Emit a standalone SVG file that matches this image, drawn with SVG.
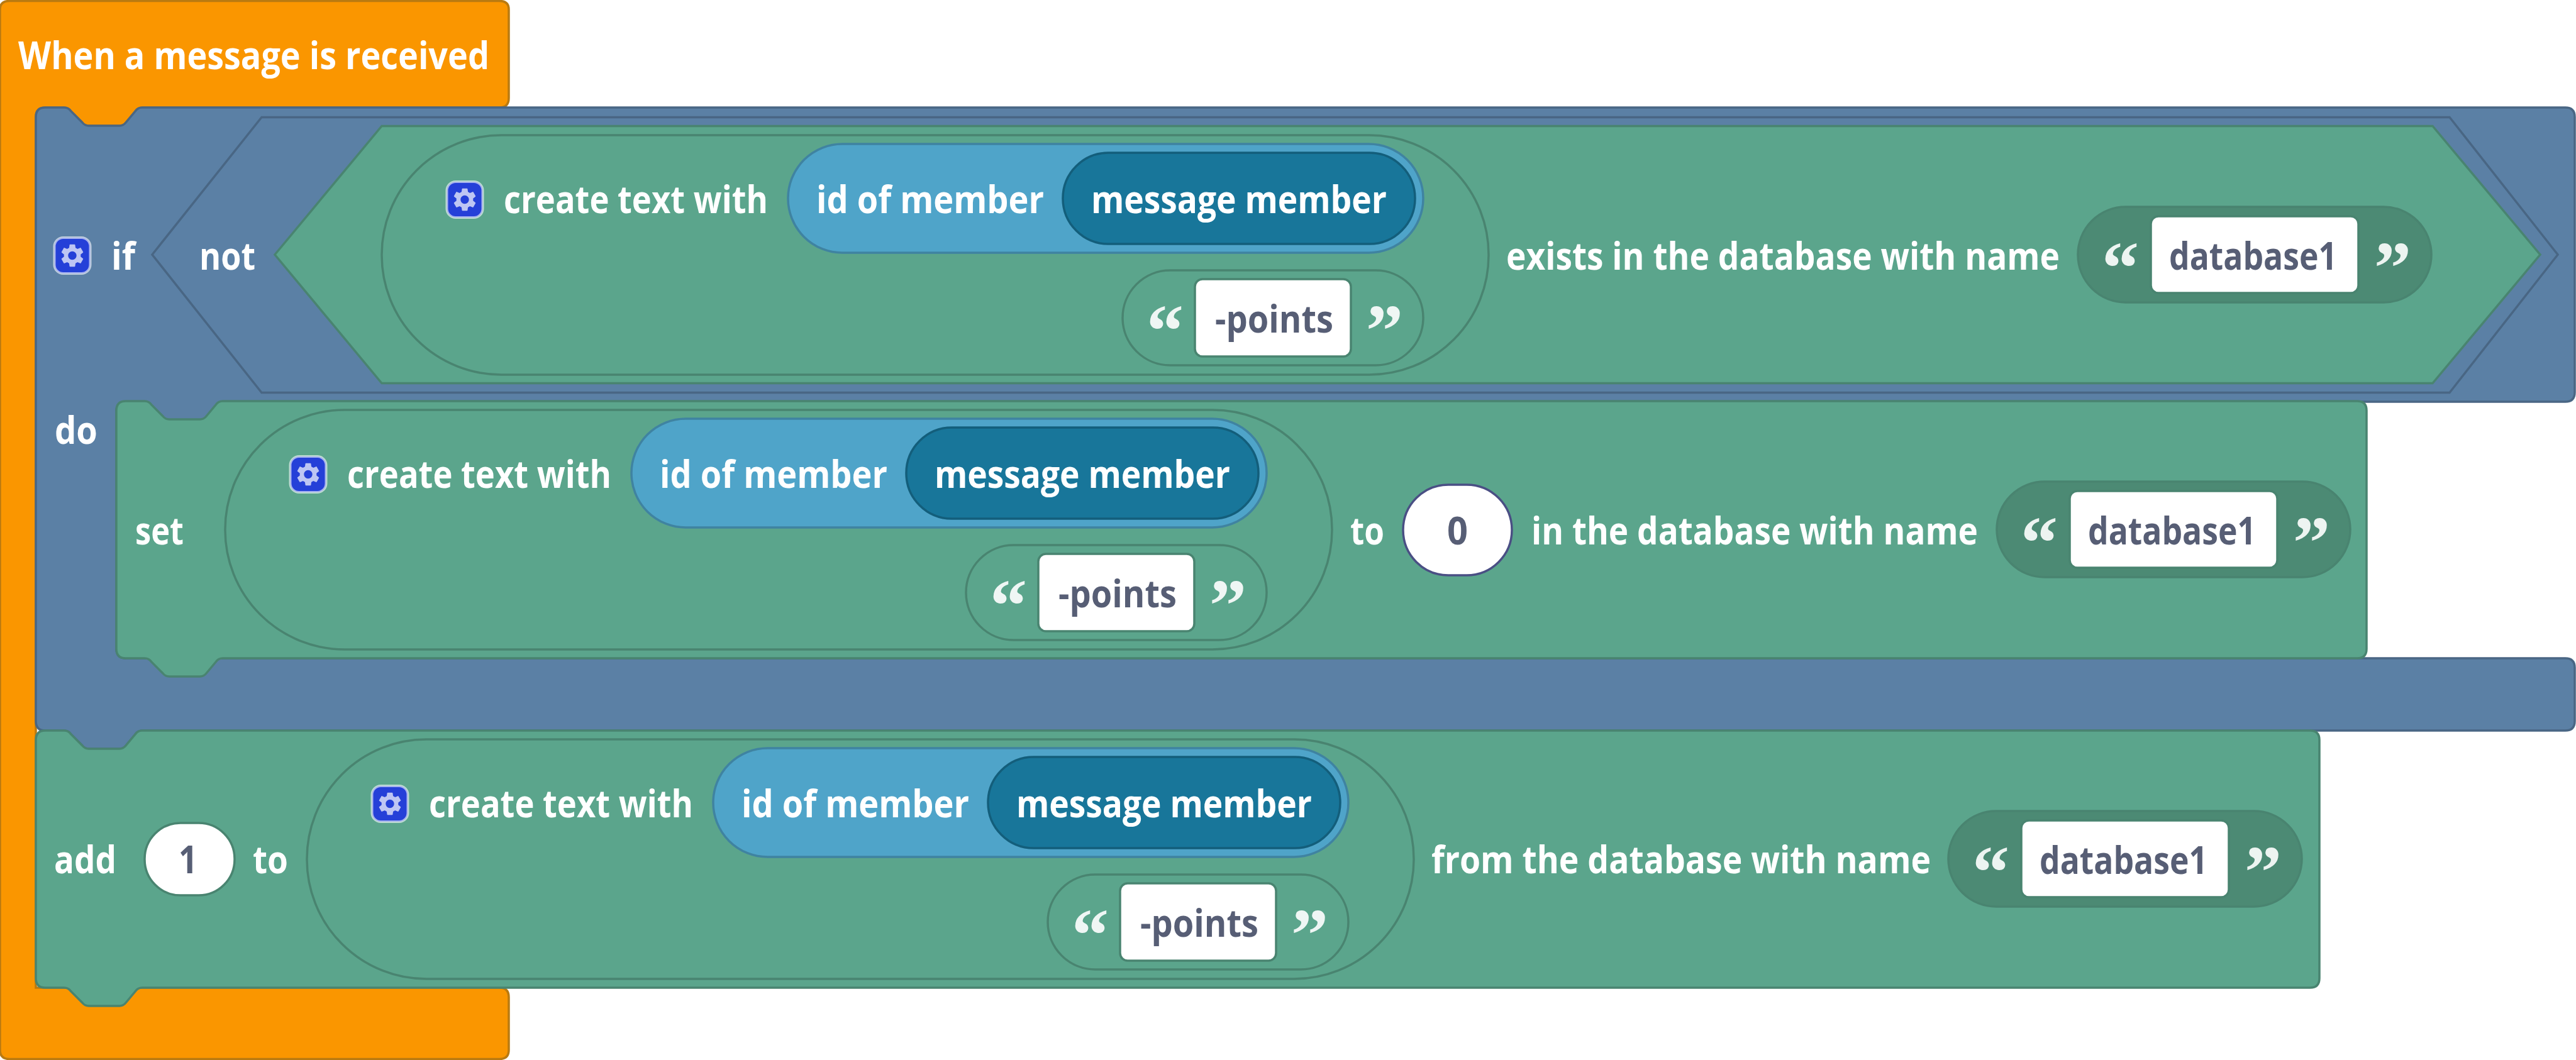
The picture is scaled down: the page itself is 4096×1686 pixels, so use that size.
<svg xmlns="http://www.w3.org/2000/svg" xmlns:xlink="http://www.w3.org/1999/xlink" width="4096" height="1686" viewBox="0 0 4096 1686">
<style>
text{font-family:"Open Sans","Noto Sans","Liberation Sans",sans-serif;font-weight:700;font-size:60px;fill:#fff;white-space:pre}
text.v{fill:#575e75}
text.q{font-family:"Liberation Serif",serif;font-size:118px;fill:#fff;fill-opacity:.9}
.g{fill:#5ba58c;stroke:#498470;stroke-width:3.5}
.b{fill:#5b80a5;stroke:#496684;stroke-width:3.5}
.o{fill:#fa9600;stroke:#b97a11;stroke-width:3.5}
.lb{fill:#4fa4c9;stroke:#3f83a1;stroke-width:3.5}
.db{fill:#18769a;stroke:#135e7b;stroke-width:3.5}
.sh{fill:#4c8a74;stroke:#498470;stroke-width:3.5}
.w{fill:#fff;stroke:#498470;stroke-width:3.5}
.ic{fill:#2540d8;stroke:#fff;stroke-opacity:.6;stroke-width:4}
.gear{fill:#fff;fill-opacity:.7}
</style>
<defs>
<g id="gear"><rect class="ic" x="-28.5" y="-28.5" width="57" height="57" rx="14"/><path class="gear" transform="scale(1.85) translate(-12,-12)" fill-rule="evenodd" d="M19.14,12.94c.04-.3.06-.61.06-.94 0-.32-.02-.64-.07-.94l2.03-1.58c.18-.14.23-.41.12-.61l-1.92-3.32c-.12-.22-.37-.29-.59-.22l-2.39.96c-.5-.38-1.03-.7-1.62-.94l-.36-2.54c-.04-.24-.24-.41-.48-.41h-3.84c-.24 0-.43.17-.47.41l-.36 2.54c-.59.24-1.13.57-1.62.94l-2.39-.96c-.22-.08-.47 0-.59.22L2.74 8.87c-.12.21-.08.47.12.61l2.03 1.58c-.05.3-.09.63-.09.94s.02.64.07.94l-2.03 1.58c-.18.14-.23.41-.12.61l1.92 3.32c.12.22.37.29.59.22l2.39-.96c.5.38 1.03.7 1.62.94l.36 2.54c.05.24.24.41.48.41h3.84c.24 0 .44-.17.47-.41l.36-2.54c.59-.24 1.13-.56 1.62-.94l2.39.96c.22.08.47 0 .59-.22l1.92-3.32c.12-.22.07-.47-.12-.61l-2.01-1.58zM12 15.6c-1.98 0-3.6-1.62-3.6-3.6s1.62-3.6 3.6-3.6 3.6 1.62 3.6 3.6-1.62 3.6-3.6 3.6z"/></g>
</defs>

<g id="event-block">
<path class="o" d="M0,15 Q0,1.5 15,1.5 H794 Q809,1.5 809,15 V156 Q809,171 794,171 H226 q-7,0 -11,6 l-15,18 q-4,5 -10,5 h-49 q-6,0 -10,-5 l-18,-18 q-4,-6 -11,-6 H72 Q57,171 57,186 V1571 H794 Q809,1571 809,1586 V1670 Q809,1684.5 794,1684.5 H15 Q0,1684.5 0,1670 Z"/>
<text x="29" y="110" textLength="749" lengthAdjust="spacingAndGlyphs">When a message is received</text>
</g>

<g id="if-block">
<path class="b" d="M57,186 Q57,171 72,171 H102 q7,0 11,6 l18,18 q4,5 10,5 h49 q6,0 10,-5 l15,-18 q4,-6 11,-6 H4079 Q4094,171 4094,186 V624 Q4094,639 4079,639 H354 q-7,0 -11,6 l-15,18 q-4,5 -10,5 h-49 q-6,0 -10,-5 l-18,-18 q-4,-6 -11,-6 H200 Q185,639 185,654 V1032 Q185,1047 200,1047 H4079 Q4094,1047 4094,1062 V1147 Q4094,1162 4079,1162 H226 q-7,0 -11,6 l-15,18 q-4,5 -10,5 h-49 q-6,0 -10,-5 l-18,-18 q-4,-6 -11,-6 H72 Q57,1162 57,1147 Z"/>
<use xlink:href="#gear" href="#gear" x="115" y="406.5"/>
<text x="177" y="429" textLength="38" lengthAdjust="spacingAndGlyphs">if</text>
<text x="87" y="706" textLength="68" lengthAdjust="spacingAndGlyphs">do</text>
</g>

<g id="not-block">
<polygon class="b" points="242,405 416,186.5 3895,186.5 4067,405 3895,624.5 416,624.5"/>
<text x="317" y="429" textLength="89" lengthAdjust="spacingAndGlyphs">not</text>
</g>

<g id="exists-block">
<polygon class="g" points="437,405 607,200.5 3868,200.5 4039,405 3868,609.5 607,609.5"/>
<text x="2395" y="429" textLength="880" lengthAdjust="spacingAndGlyphs">exists in the database with name</text>
</g>

<g id="exists-text-block">
<rect class="g" x="607" y="215" width="1760" height="381" rx="190" ry="190"/>
<use xlink:href="#gear" href="#gear" x="739" y="317.5"/>
<text x="801" y="339" textLength="420" lengthAdjust="spacingAndGlyphs">create text with</text>
</g>
<g id="exists-id-of-member">
<rect class="lb" x="1253" y="229" width="1010" height="173" rx="86.5"/>
<text x="1298" y="339" textLength="362" lengthAdjust="spacingAndGlyphs">id of member</text>
</g>
<g id="exists-message-member">
<rect class="db" x="1690" y="243" width="560" height="145" rx="72.5"/>
<text x="1735" y="339" textLength="470" lengthAdjust="spacingAndGlyphs">message member</text>
</g>
<g id="exists-points">
<rect class="g" x="1785" y="430" width="478" height="151" rx="75.5"/>
<text class="q" x="1823" y="566">“</text>
<rect class="w" x="1900" y="444" width="248" height="123" rx="12"/>
<text class="v" x="1932" y="529" textLength="188" lengthAdjust="spacingAndGlyphs">-points</text>
<text class="q" x="2172" y="566">”</text>
</g>
<g id="exists-database">
<rect class="sh" x="3304" y="329" width="562" height="152" rx="76"/>
<text class="q" x="3342" y="466">“</text>
<rect class="w" x="3420" y="344" width="330" height="122" rx="12"/>
<text class="v" x="3449" y="429" textLength="267" lengthAdjust="spacingAndGlyphs">database1</text>
<text class="q" x="3775" y="466">”</text>
</g>

<g id="set-block">
<path class="g" d="M185,653 Q185,638 200,638 H230 q7,0 11,6 l18,18 q4,5 10,5 h49 q6,0 10,-5 l15,-18 q4,-6 11,-6 H3748 Q3763,638 3763,653 V1032 Q3763,1047 3748,1047 H354 q-7,0 -11,6 l-15,18 q-4,5 -10,5 h-49 q-6,0 -10,-5 l-18,-18 q-4,-6 -11,-6 H200 Q185,1047 185,1032 Z"/>
<text x="215" y="866" textLength="77" lengthAdjust="spacingAndGlyphs">set</text>
<text x="2147" y="866" textLength="54" lengthAdjust="spacingAndGlyphs">to</text>
<text x="2435" y="866" textLength="710" lengthAdjust="spacingAndGlyphs">in the database with name</text>
</g>
<g id="set-text-block" transform="translate(-249,437)">
<rect class="g" x="607" y="215" width="1760" height="381" rx="190" ry="190"/>
<use xlink:href="#gear" href="#gear" x="739" y="317.5"/>
<text x="801" y="339" textLength="420" lengthAdjust="spacingAndGlyphs">create text with</text>
<g id="set-id-of-member">
<rect class="lb" x="1253" y="229" width="1010" height="173" rx="86.5"/>
<text x="1298" y="339" textLength="362" lengthAdjust="spacingAndGlyphs">id of member</text>
</g>
<g id="set-message-member">
<rect class="db" x="1690" y="243" width="560" height="145" rx="72.5"/>
<text x="1735" y="339" textLength="470" lengthAdjust="spacingAndGlyphs">message member</text>
</g>
<g id="set-points">
<rect class="g" x="1785" y="430" width="478" height="151" rx="75.5"/>
<text class="q" x="1823" y="566">“</text>
<rect class="w" x="1900" y="444" width="248" height="123" rx="12"/>
<text class="v" x="1932" y="529" textLength="188" lengthAdjust="spacingAndGlyphs">-points</text>
<text class="q" x="2172" y="566">”</text>
</g>
</g>
<g id="set-value">
<rect x="2231" y="771" width="173" height="144" rx="72" fill="#fff" stroke="#4a4f84" stroke-width="3.5"/>
<text class="v" x="2301" y="866" textLength="33" lengthAdjust="spacingAndGlyphs">0</text>
</g>
<g id="set-database" transform="translate(-129,437)">
<rect class="sh" x="3304" y="329" width="562" height="152" rx="76"/>
<text class="q" x="3342" y="466">“</text>
<rect class="w" x="3420" y="344" width="330" height="122" rx="12"/>
<text class="v" x="3449" y="429" textLength="267" lengthAdjust="spacingAndGlyphs">database1</text>
<text class="q" x="3775" y="466">”</text>
</g>

<g id="add-block">
<path class="g" d="M57,1177 Q57,1162 72,1162 H102 q7,0 11,6 l18,18 q4,5 10,5 h49 q6,0 10,-5 l15,-18 q4,-6 11,-6 H3673 Q3688,1162 3688,1177 V1556 Q3688,1571 3673,1571 H226 q-7,0 -11,6 l-15,18 q-4,5 -10,5 h-49 q-6,0 -10,-5 l-18,-18 q-4,-6 -11,-6 H72 Q57,1571 57,1556 Z"/>
<text x="86" y="1389" textLength="99" lengthAdjust="spacingAndGlyphs">add</text>
<text x="402" y="1389" textLength="56" lengthAdjust="spacingAndGlyphs">to</text>
<text x="2276" y="1389" textLength="794" lengthAdjust="spacingAndGlyphs">from the database with name</text>
</g>
<g id="add-value">
<rect class="w" x="230" y="1309" width="143" height="115" rx="57"/>
<text class="v" x="284" y="1389" textLength="30" lengthAdjust="spacingAndGlyphs">1</text>
</g>
<g id="add-text-block" transform="translate(-119,961)">
<rect class="g" x="607" y="215" width="1760" height="381" rx="190" ry="190"/>
<use xlink:href="#gear" href="#gear" x="739" y="317.5"/>
<text x="801" y="339" textLength="420" lengthAdjust="spacingAndGlyphs">create text with</text>
<g id="add-id-of-member">
<rect class="lb" x="1253" y="229" width="1010" height="173" rx="86.5"/>
<text x="1298" y="339" textLength="362" lengthAdjust="spacingAndGlyphs">id of member</text>
</g>
<g id="add-message-member">
<rect class="db" x="1690" y="243" width="560" height="145" rx="72.5"/>
<text x="1735" y="339" textLength="470" lengthAdjust="spacingAndGlyphs">message member</text>
</g>
<g id="add-points">
<rect class="g" x="1785" y="430" width="478" height="151" rx="75.5"/>
<text class="q" x="1823" y="566">“</text>
<rect class="w" x="1900" y="444" width="248" height="123" rx="12"/>
<text class="v" x="1932" y="529" textLength="188" lengthAdjust="spacingAndGlyphs">-points</text>
<text class="q" x="2172" y="566">”</text>
</g>
</g>
<g id="add-database" transform="translate(-206,961)">
<rect class="sh" x="3304" y="329" width="562" height="152" rx="76"/>
<text class="q" x="3342" y="466">“</text>
<rect class="w" x="3420" y="344" width="330" height="122" rx="12"/>
<text class="v" x="3449" y="429" textLength="267" lengthAdjust="spacingAndGlyphs">database1</text>
<text class="q" x="3775" y="466">”</text>
</g>
</svg>
